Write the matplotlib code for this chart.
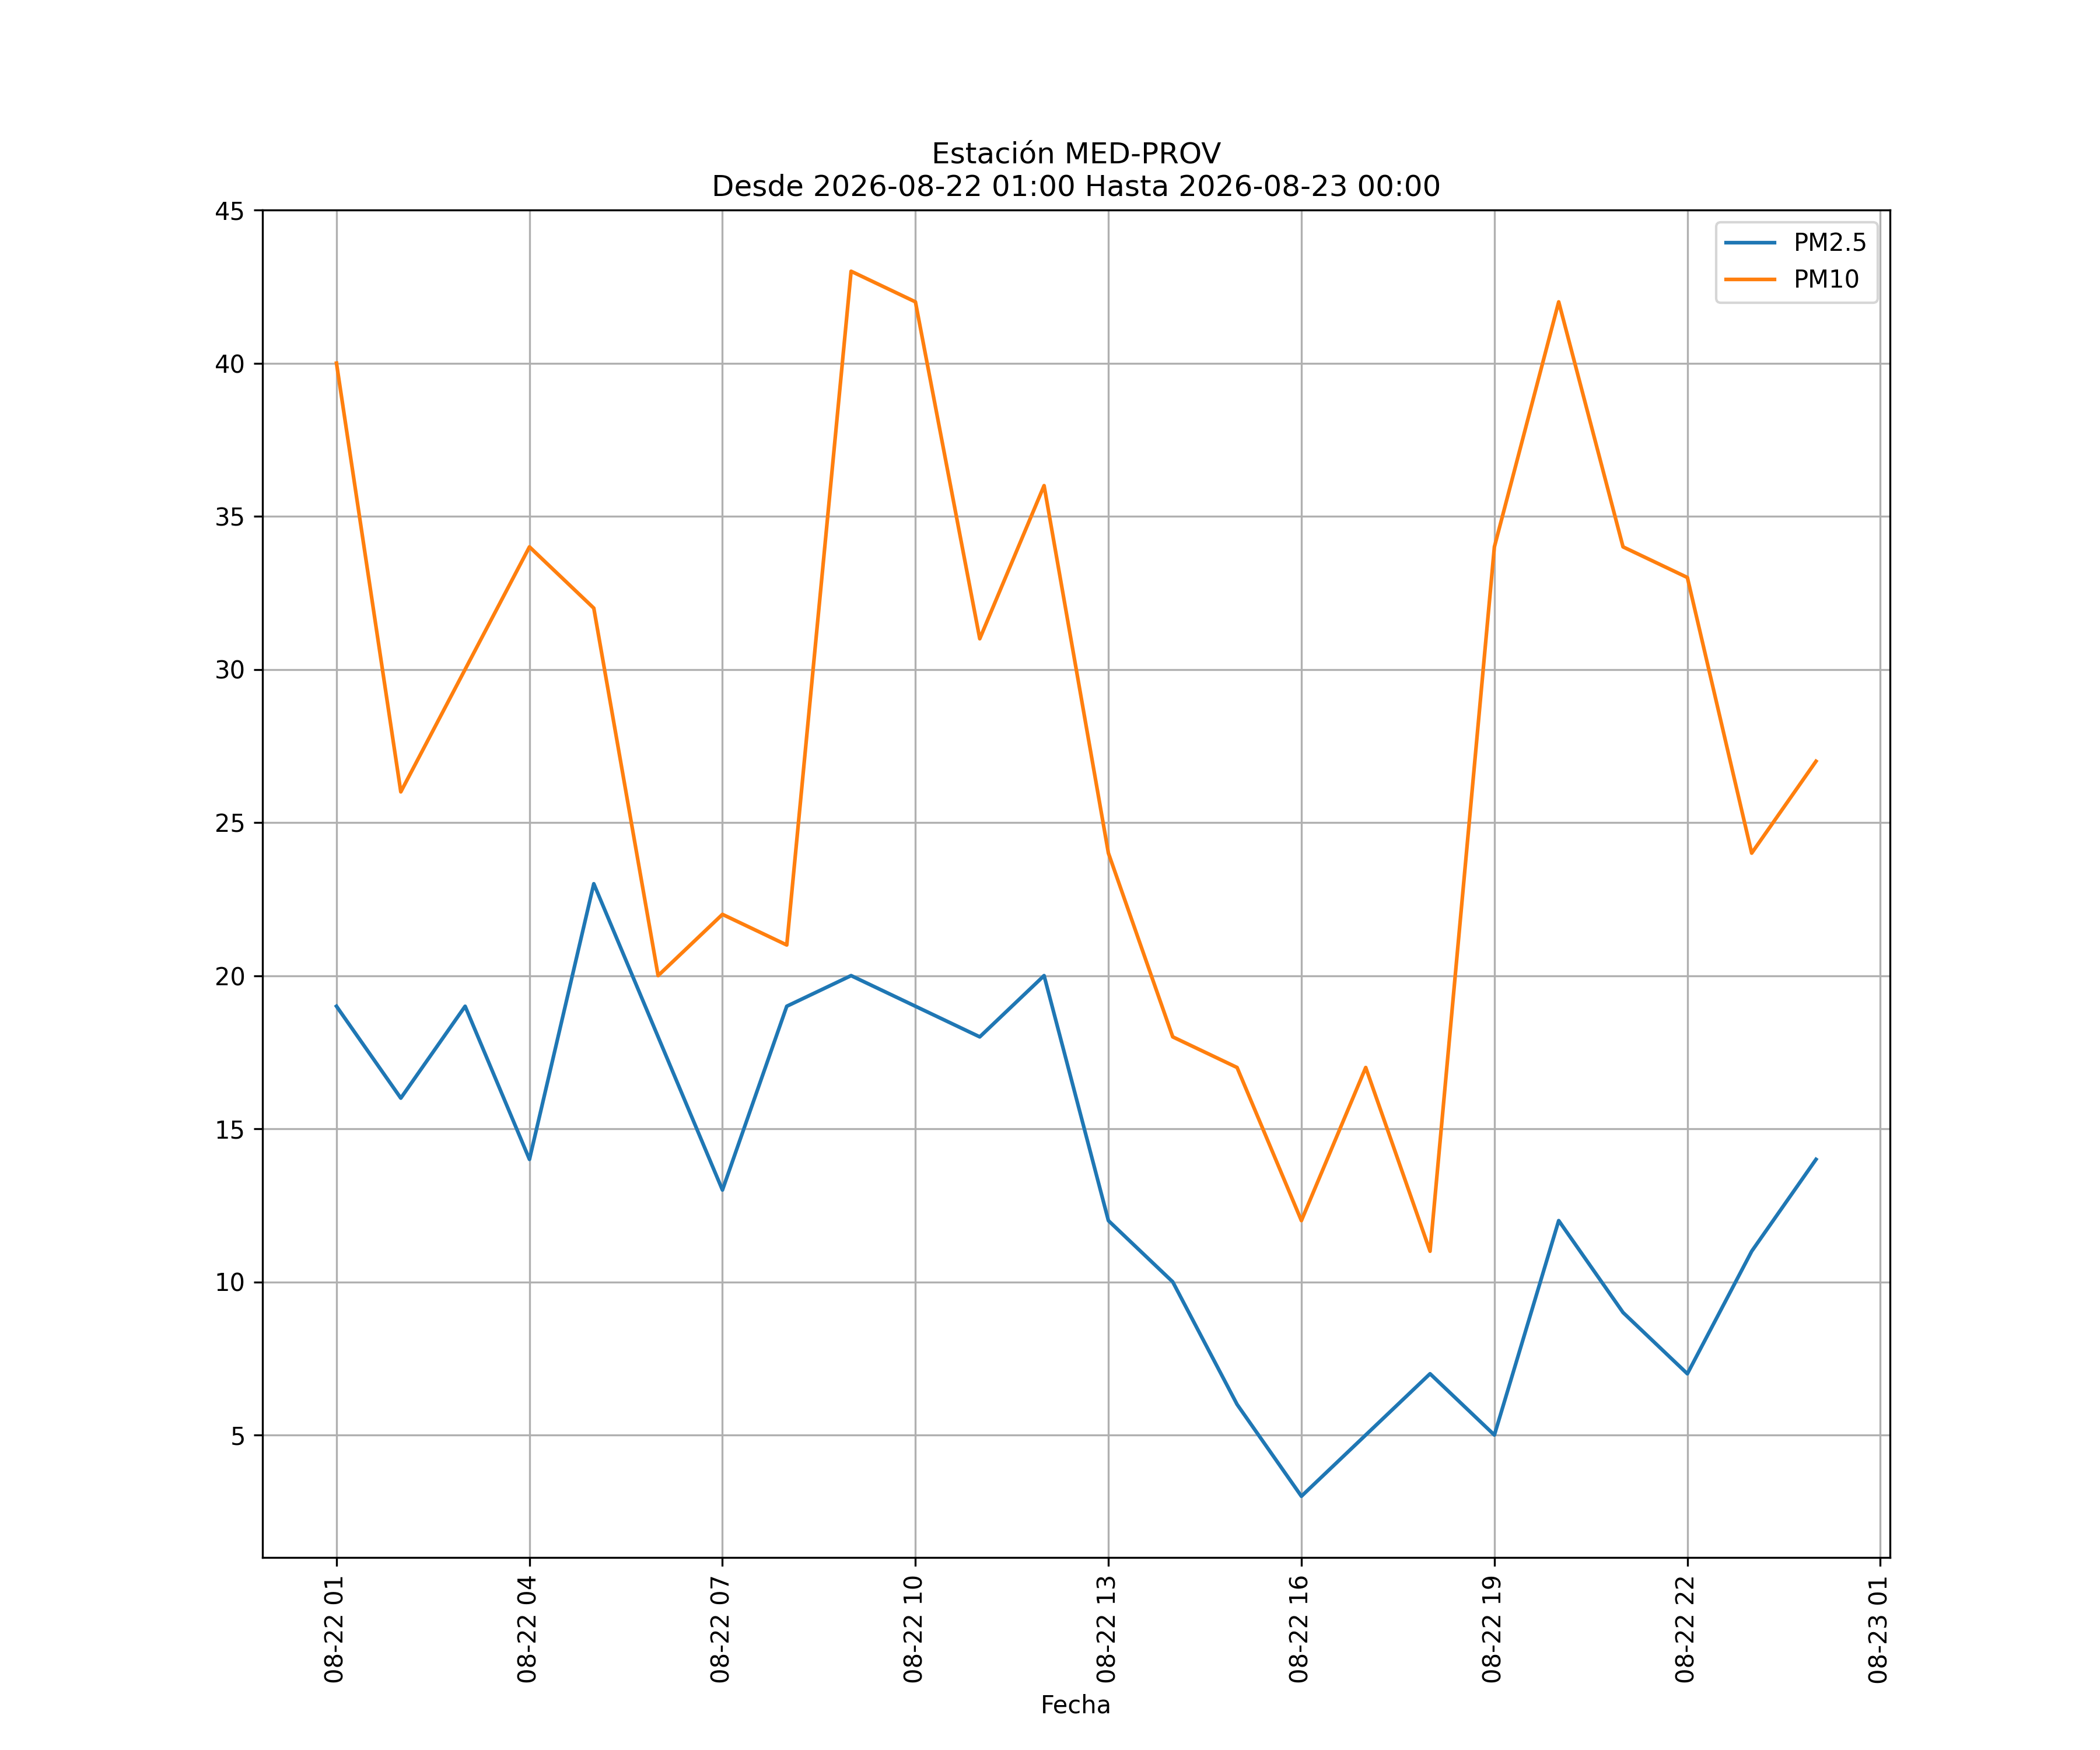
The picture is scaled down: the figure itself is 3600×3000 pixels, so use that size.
import numpy as np
import pandas as pd
import matplotlib
matplotlib.use("Agg")
import matplotlib.pyplot as plt
import matplotlib.dates as mdates

# datos horarios de la estacion
fechas = pd.date_range("2026-08-22 01:00", "2026-08-23 00:00", freq="h")
pm25 = [19, 16, 19, 14, 23, 18, 13, 19, 20, 19, 18, 20,
        12, 10, 6, 3, 5, 7, 5, 12, 9, 7, 11, 14]
pm10 = [40, 26, 30, 34, 32, 20, 22, 21, 43, 42, 31, 36,
        24, 18, 17, 12, 17, 11, 34, 42, 34, 33, 24, 27]

fig, ax = plt.subplots(figsize=(12, 10))
ax.plot(fechas, pm25, label="PM2.5")
ax.plot(fechas, pm10, label="PM10")

ax.xaxis.set_major_locator(mdates.HourLocator(byhour=range(1, 24, 3)))
ax.xaxis.set_major_formatter(mdates.DateFormatter("%m-%d %H"))
plt.setp(ax.get_xticklabels(), rotation=90)

ax.set_xlabel("Fecha")
ax.set_title("Estación MED-PROV\nDesde 2026-08-22 01:00 Hasta 2026-08-23 00:00")
ax.grid()
ax.legend(loc="upper right")

fig.savefig("out.png", dpi=300)
